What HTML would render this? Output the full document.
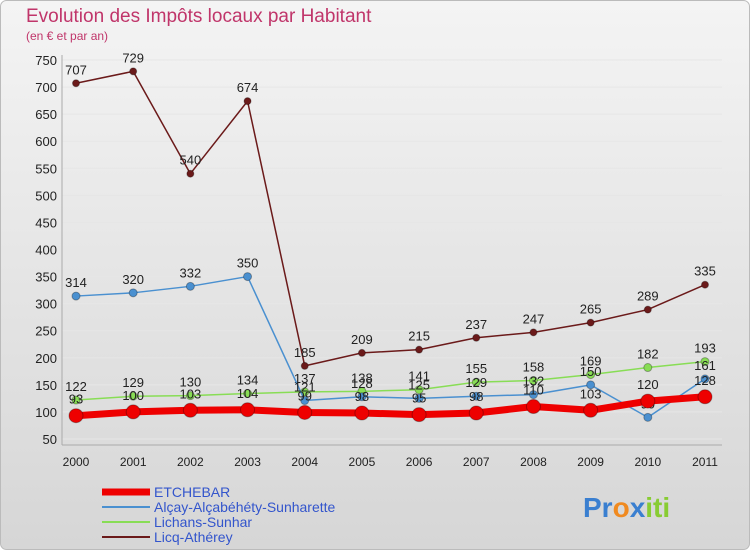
<!DOCTYPE html>
<html><head><meta charset="utf-8"><style>
body{margin:0;width:750px;height:550px;overflow:hidden;font-family:"Liberation Sans",sans-serif}
</style></head><body>
<svg width="750" height="550" xmlns="http://www.w3.org/2000/svg">
<defs><linearGradient id="bg" x1="0" y1="0" x2="0" y2="1"><stop offset="0" stop-color="#f4f4f4"/><stop offset="1" stop-color="#d6d6d6"/></linearGradient></defs>
<rect x="0.5" y="0.5" width="749" height="549" rx="6" fill="url(#bg)" stroke="#bbb"/>
<text x="26" y="22" font-size="19" fill="#c0356a">Evolution des Impôts locaux par Habitant</text>
<text x="26" y="40" font-size="12" fill="#c0356a">(en € et par an)</text>
<g id="axes"></g><g id="series"></g>
<g font-size="14" fill="#3355cc">
<line x1="102" y1="492" x2="150" y2="492" stroke="#ee0000" stroke-width="7"/>
<text x="154" y="497">ETCHEBAR</text>
<line x1="102" y1="507" x2="150" y2="507" stroke="#4a90d0" stroke-width="2"/>
<text x="154" y="512">Alçay-Alçabéhéty-Sunharette</text>
<line x1="102" y1="522" x2="150" y2="522" stroke="#88dd55" stroke-width="2"/>
<text x="154" y="527">Lichans-Sunhar</text>
<line x1="102" y1="537" x2="150" y2="537" stroke="#6b1a1a" stroke-width="2"/>
<text x="154" y="542">Licq-Athérey</text>
</g>
<text x="583" y="517" font-size="28" font-weight="bold"><tspan fill="#3a7fd0">Pr</tspan><tspan fill="#f08a20">o</tspan><tspan fill="#3a7fd0">x</tspan><tspan fill="#88cc33">iti</tspan></text>
</svg>
<script>
const years=[2000,2001,2002,2003,2004,2005,2006,2007,2008,2009,2010,2011];
const yTicks=[50,100,150,200,250,300,350,400,450,500,550,600,650,700,750];
const etchebar=[93,100,103,104,99,98,95,98,110,103,120,128];
const alcay=[314,320,332,350,121,128,125,129,132,150,90,161];
const lichans=[122,129,130,134,137,138,141,155,158,169,182,193];
const licq=[707,729,540,674,185,209,215,237,247,265,289,335];
const NS="http://www.w3.org/2000/svg";
const X=i=>76+i*(705-76)/11, Y=v=>439-(v-50)*(439-60)/700;
function mk(t,a,p){const e=document.createElementNS(NS,t);for(const k in a)e.setAttribute(k,a[k]);p.appendChild(e);return e;}
const ax=document.getElementById('axes'), sg=document.getElementById('series');
yTicks.forEach(v=>{
 const l=mk('line',{x1:62,x2:722,y1:Y(v),y2:Y(v),stroke:'#e6e6e6'},ax);
 
 
 const t=mk('text',{x:57,y:Y(v)+5,'text-anchor':'end','font-size':13,fill:'#222'},ax);t.textContent=v;
 
 
});
const ya=mk('line',{x1:62,x2:62,y1:55,y2:445,stroke:'#aaa'},ax);


const xa=mk('line',{x1:62,x2:722,y1:445,y2:445,stroke:'#aaa'},ax);


years.forEach((y,i)=>{
 const t=mk('text',{x:X(i),y:466,'text-anchor':'middle','font-size':12,fill:'#222'},ax);t.textContent=y;
 
 
});
function series(vals,name,color,w,r,lo){
 const g=mk('g',{},sg);
 
 
 const p=mk('polyline',{points:vals.map((v,i)=>X(i)+','+Y(v)).join(' '),fill:'none',stroke:color,'stroke-width':w,'stroke-linejoin':'round'},g);
 
 
 vals.forEach((v,i)=>{
  const c=mk('circle',{cx:X(i),cy:Y(v),r:r,fill:color,stroke:'rgba(0,0,0,0.3)'},g);
  
  
  const t=mk('text',{x:X(i),y:Y(v)-lo,'text-anchor':'middle','font-size':13,fill:'#222'},g);t.textContent=v;
  
  
 });
}
series(licq,'licq','#6b1a1a',1.5,3.5,9);
series(lichans,'lichans','#88dd55',1.5,4,9);
series(alcay,'alcay','#4a90d0',1.5,4,9);
series(etchebar,'etchebar','#ee0000',7,7,12);
</script>
</body></html>
